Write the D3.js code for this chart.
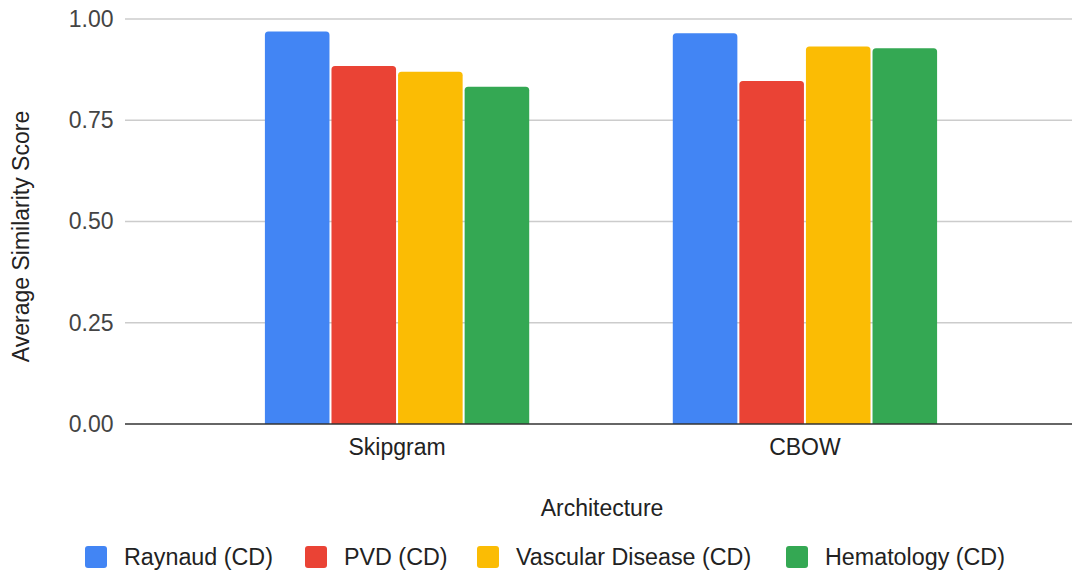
<!DOCTYPE html>
<html>
<head>
<meta charset="utf-8">
<script src="https://cdn.jsdelivr.net/npm/d3@7"></script>
<style>
  html, body { margin: 0; padding: 0; background: #fff; }
  svg { display: block; }
  text { font-family: Arial, "Liberation Sans", sans-serif; }
</style>
</head>
<body>
<svg id="chart" width="1072" height="573"></svg>
<script>
// Chart data
const categories = ["Skipgram", "CBOW"];
const seriesNames = ["Raynaud (CD)", "PVD (CD)", "Vascular Disease (CD)", "Hematology (CD)"];
const raynaud = [0.969, 0.965];
const pvd = [0.884, 0.847];
const vascular = [0.870, 0.932];
const hematology = [0.833, 0.928];
const yTicks = [0, 0.25, 0.5, 0.75, 1.0];
const colors = ["#4285F4", "#EA4335", "#FBBC04", "#34A853"];

const seriesValues = [raynaud, pvd, vascular, hematology];
const rows = categories.map((c, i) => ({
  category: c,
  values: seriesNames.map((s, j) => ({ series: s, value: seriesValues[j][i] }))
}));

const labelSize = 23;
const tickSize = 23;
const legendSize = 23.3;

const svg = d3.select("#chart");
const plot = { left: 125, right: 1077, top: 19, bottom: 424 };

const x0 = d3.scaleBand()
  .domain(categories)
  .range([plot.left, plot.right])
  .paddingInner(0.352)
  .paddingOuter(0.343);

const x1 = d3.scaleBand()
  .domain(seriesNames)
  .range([0, x0.bandwidth()])
  .paddingInner(0.03);

const y = d3.scaleLinear().domain([0, 1]).range([plot.bottom, plot.top]);
const color = d3.scaleOrdinal().domain(seriesNames).range(colors);

// Gridlines
svg.append("g")
  .selectAll("line")
  .data(yTicks.filter(t => t !== 0))
  .join("line")
  .attr("x1", plot.left).attr("x2", plot.right)
  .attr("y1", d => y(d)).attr("y2", d => y(d))
  .attr("stroke", "#cccccc").attr("stroke-width", 1.5);

// Y tick labels
const yAxis = d3.axisLeft(y).tickValues(yTicks).tickFormat(d3.format(".2f")).tickSize(0).tickPadding(11.5);
const yg = svg.append("g").attr("transform", `translate(${plot.left},0)`).call(yAxis);
yg.select(".domain").remove();
yg.selectAll("text")
  .attr("fill", "#444").attr("font-size", tickSize)
  .style("font-family", "Arial, 'Liberation Sans', sans-serif");

// Bars with rounded top corners
function topRounded(x, yTop, w, h, r) {
  r = Math.min(r, h, w / 2);
  return `M${x},${yTop + h}V${yTop + r}Q${x},${yTop} ${x + r},${yTop}H${x + w - r}Q${x + w},${yTop} ${x + w},${yTop + r}V${yTop + h}Z`;
}

svg.append("g")
  .selectAll("g")
  .data(rows)
  .join("g")
  .attr("transform", d => `translate(${x0(d.category)},0)`)
  .selectAll("path")
  .data(d => d.values)
  .join("path")
  .attr("d", d => topRounded(x1(d.series), y(d.value), x1.bandwidth(), y(0) - y(d.value), 3.5))
  .attr("fill", d => color(d.series));

// Baseline
svg.append("line")
  .attr("x1", plot.left).attr("x2", plot.right)
  .attr("y1", y(0)).attr("y2", y(0))
  .attr("stroke", "#333").attr("stroke-width", 1.5);

// Category labels
const xAxis = d3.axisBottom(x0).tickSize(0).tickPadding(15);
const xg = svg.append("g").attr("transform", `translate(0,${plot.bottom})`).call(xAxis);
xg.select(".domain").remove();
xg.selectAll("text")
  .attr("fill", "#222").attr("font-size", labelSize)
  .style("font-family", "Arial, 'Liberation Sans', sans-serif");

// Axis titles
svg.append("text")
  .attr("x", 602).attr("y", 516)
  .attr("text-anchor", "middle")
  .attr("font-size", labelSize).attr("fill", "#222")
  .text("Architecture");

svg.append("text")
  .attr("transform", "translate(28.5,236.5) rotate(-90)")
  .attr("text-anchor", "middle")
  .attr("font-size", labelSize).attr("fill", "#222")
  .text("Average Similarity Score");

// Legend
const legendX = [85, 305, 477, 786];
const legend = svg.append("g")
  .selectAll("g")
  .data(seriesNames)
  .join("g")
  .attr("transform", (d, i) => `translate(${legendX[i]},546)`);

legend.append("rect")
  .attr("width", 22).attr("height", 22).attr("rx", 3)
  .attr("fill", d => color(d));

legend.append("text")
  .attr("x", 39).attr("y", 11)
  .attr("dy", "0.35em")
  .attr("font-size", legendSize).attr("fill", "#222")
  .text(d => d);
</script>
</body>
</html>
